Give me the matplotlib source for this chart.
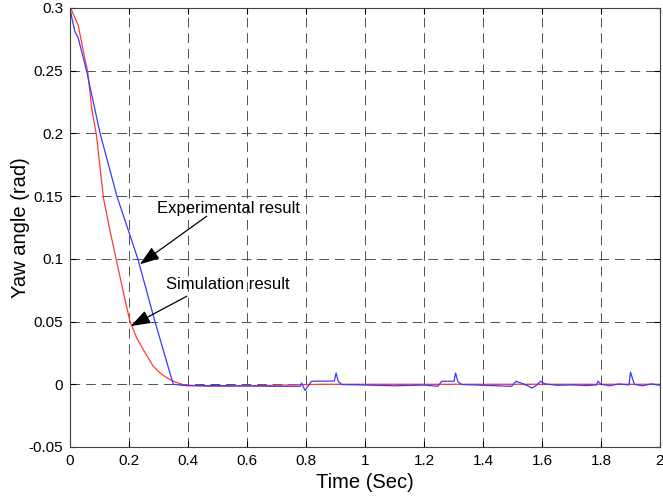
import numpy as np
import matplotlib
matplotlib.use('Agg')
import matplotlib.pyplot as plt

plt.rcParams['font.family'] = ['Liberation Sans', 'DejaVu Sans']

# Simulation result (red)
t_sim = [0, 0.006, 0.028, 0.045, 0.06, 0.073, 0.09, 0.113, 0.135, 0.158, 0.185,
         0.203, 0.226, 0.25, 0.282, 0.31, 0.339, 0.36, 0.384, 0.42, 0.475, 0.55,
         0.65, 0.75, 0.85, 1.0, 1.5, 2.0]
y_sim = [0.3, 0.298, 0.286, 0.266, 0.249, 0.221, 0.198, 0.149, 0.123, 0.098, 0.069,
         0.0504, 0.037, 0.027, 0.0144, 0.008, 0.0038, 0.0015, -0.0003, -0.001, -0.0016, -0.0015,
         -0.001, -0.0005, 0.0, 0.0, 0.0, 0.0]

# Experimental result (blue)
t_exp = [0, 0.008, 0.017, 0.028, 0.057, 0.102, 0.159, 0.23, 0.288, 0.35, 0.4, 0.5,
         0.6, 0.7, 0.78, 0.785, 0.797, 0.805, 0.819, 0.896, 0.902, 0.909, 0.921, 1.0,
         1.1, 1.2, 1.247, 1.26, 1.302, 1.307, 1.315, 1.328, 1.4, 1.497, 1.512, 1.537,
         1.555, 1.565, 1.58, 1.595, 1.61, 1.65, 1.7, 1.75, 1.785, 1.79, 1.80, 1.83,
         1.86, 1.895, 1.9, 1.913, 1.94, 1.97, 2.0]
y_exp = [0.3, 0.29, 0.281, 0.276, 0.249, 0.2, 0.15, 0.1, 0.05, 0.0, -0.0012, -0.001,
         -0.0014, -0.0016, -0.0016, 0.001, -0.005, -0.002, 0.0024, 0.0026, 0.009, 0.0024, -0.0002, -0.0006,
         -0.0012, -0.0006, -0.0016, 0.0024, 0.0024, 0.009, 0.002, -0.0002, -0.0008, -0.0016, 0.0024, 0.0003,
         -0.0016, -0.003, -0.001, 0.0024, 0.0003, -0.0008, -0.0005, -0.001, -0.0005, 0.0024, 0.0, -0.0012,
         0.0003, -0.0005, 0.0096, 0.0, -0.0012, 0.0003, -0.0008]

x_ticks = np.arange(0, 2.01, 0.2)
y_ticks = np.arange(-0.05, 0.301, 0.05)
x_labels = ['0', '0.2', '0.4', '0.6', '0.8', '1', '1.2', '1.4', '1.6', '1.8', '2']
y_labels = ['-0.05', '0', '0.05', '0.1', '0.15', '0.2', '0.25', '0.3']

fig = plt.figure(figsize=(6.63, 4.99), dpi=100)
ax = fig.add_axes([70/663, 52/499, 590/663, 439/499])

ax.plot(t_sim, y_sim, color='#ff3a3a', lw=0.9)
ax.plot(t_exp, y_exp, color='#3a3aff', lw=0.9)

ax.set_xlim(0, 2)
ax.set_ylim(-0.05, 0.3)
ax.set_xticks(x_ticks)
ax.set_xticklabels(x_labels)
ax.set_yticks(y_ticks)
ax.set_yticklabels(y_labels)
ax.tick_params(direction='in', length=4, labelsize=11, pad=5,
               top=True, right=True)
ax.grid(True, color='#505050', lw=0.7, linestyle=(0, (10, 6)))
for s in ax.spines.values():
    s.set_color('#404040')
    s.set_linewidth(0.8)

ax.set_xlabel('Time (Sec)', fontsize=14.5, labelpad=4)
ax.set_ylabel('Yaw angle (rad)', fontsize=14.5)
ax.yaxis.set_label_coords(-0.067, 0.5)

ax.annotate('Experimental result', xy=(0.237, 0.0957), xytext=(0.294, 0.14),
            fontsize=12, va='center', ha='left',
            arrowprops=dict(arrowstyle='-|>,head_length=1.0,head_width=0.35',
                            color='black', lw=0.9, shrinkA=0, shrinkB=0,
                            patchA=None, relpos=(0.35, 0.0)))
ax.annotate('Simulation result', xy=(0.206, 0.0464), xytext=(0.325, 0.0798),
            fontsize=12, va='center', ha='left',
            arrowprops=dict(arrowstyle='-|>,head_length=1.0,head_width=0.35',
                            color='black', lw=0.9, shrinkA=0, shrinkB=0,
                            patchA=None, relpos=(0.17, -0.3)))

fig.savefig('out.png', dpi=100)
